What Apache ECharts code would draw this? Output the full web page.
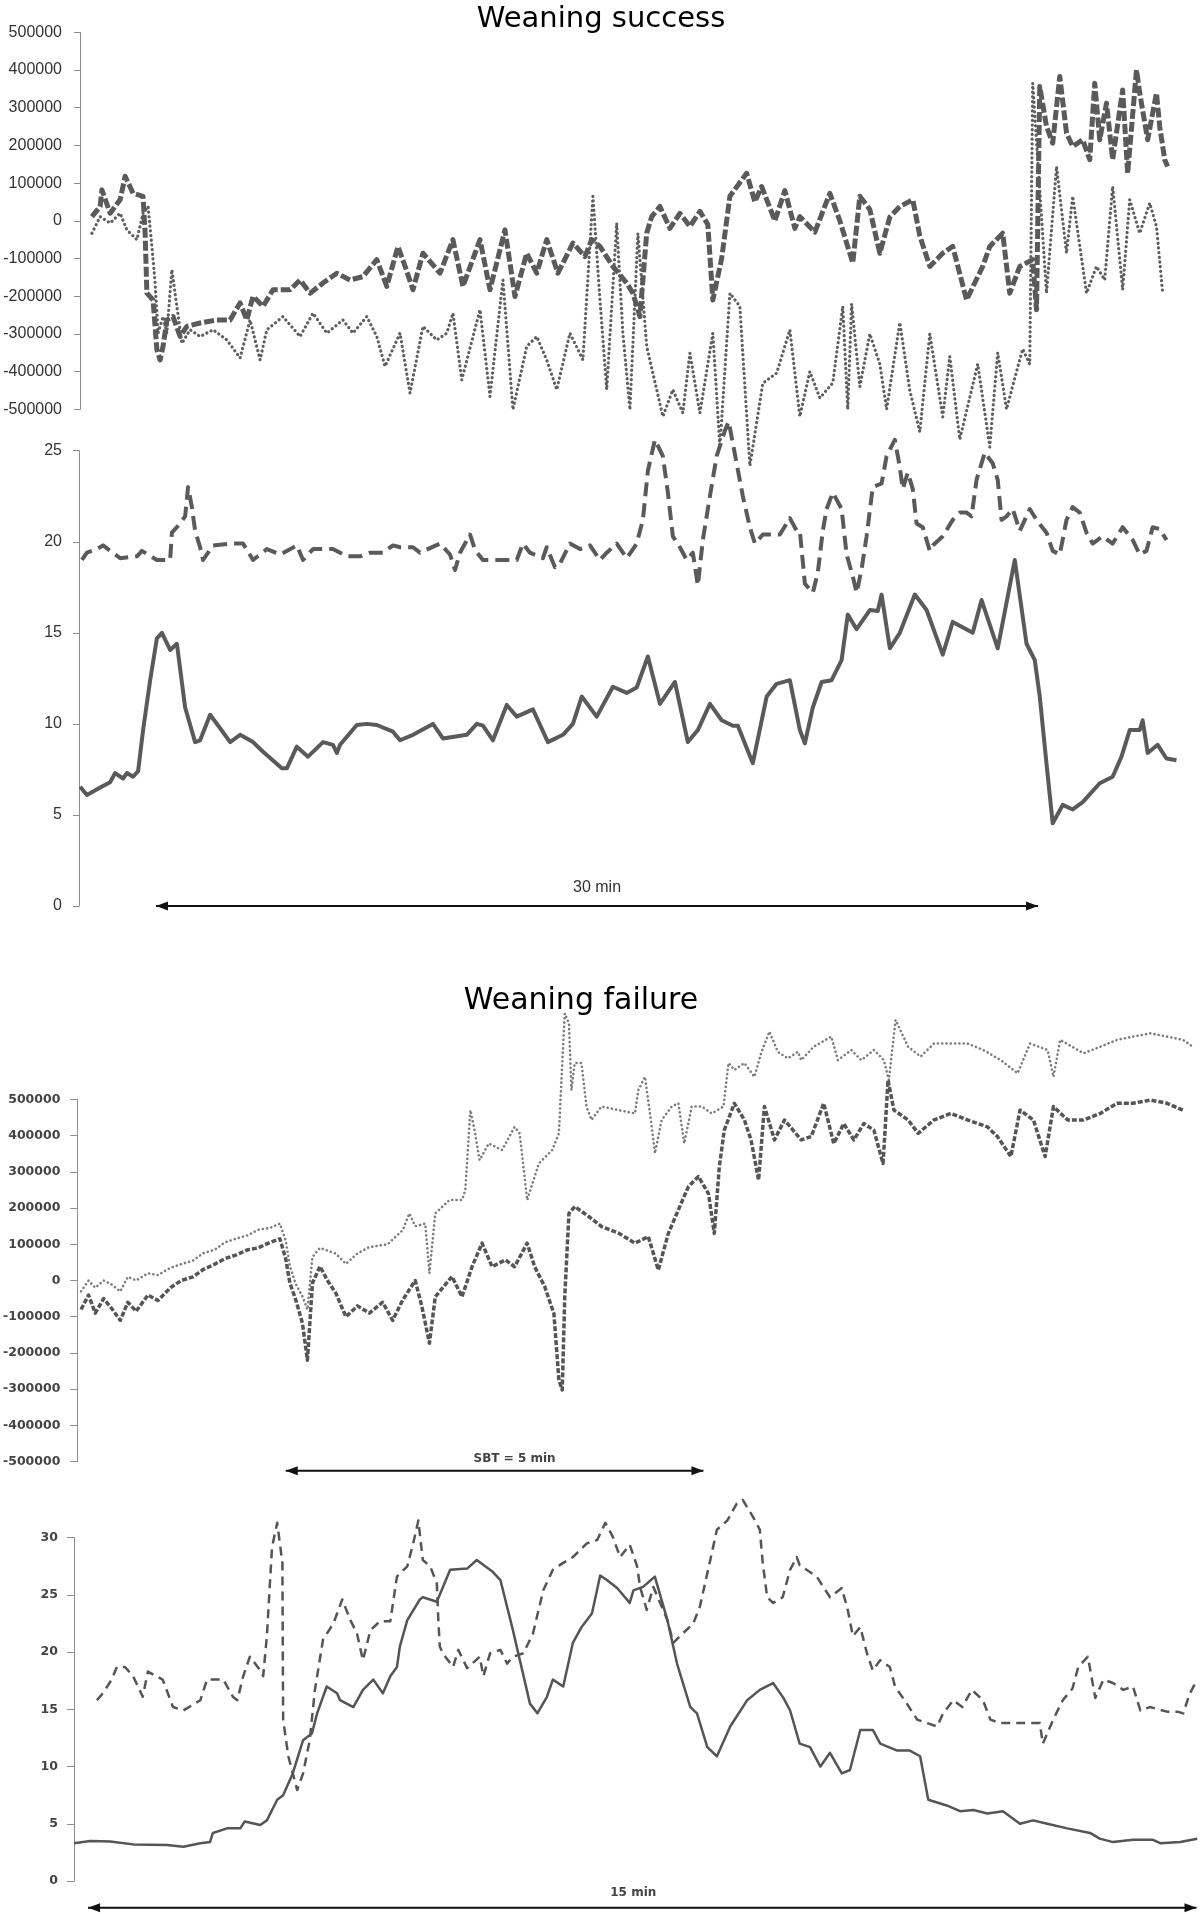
<!DOCTYPE html>
<html><head><meta charset="utf-8">
<script src="https://cdn.jsdelivr.net/npm/echarts@6/dist/echarts.min.js"></script>
<style>html,body{margin:0;padding:0;background:#fff}#chart{width:1200px;height:1914px}</style>
</head><body><div id="chart"></div>
<script>
// ---- Titles ----
const titleSuccess = 'Weaning success';
const titleFailure = 'Weaning failure';

// ---- Axis ranges (value ticks) ----
const signalAxis = {min: -500000, max: 500000, interval: 100000};
const successRateAxis = {min: 0, max: 25, interval: 5};
const failureRateAxis = {min: 0, max: 30, interval: 5};

// ---- Time spans (minutes) ----
const successTimeRange = [-2.585, 34.83];
const successRateTimeRange = [-2.62, 34.83];
const failureSignalTimeRange = [-2.494, 10.92];
const failureRateTimeRange = [-0.19, 15.02];
const successSpan = [0, 30];      const successSpanLabel = '30 min';
const sbtSpan = [0, 5];           const sbtSpanLabel = 'SBT = 5 min';
const failureSpan = [0, 15];      const failureSpanLabel = '15 min';

// ---- Weaning success: signal (dashed) [min, value] ----
const successDashedSignal = [[-2.18,11000],[-1.90,38000],[-1.84,82000],[-1.56,20000],[-1.22,56000],[-1.05,118000],[-0.78,73000],[-0.44,65000],[-0.37,-33000],[-0.31,-192000],[-0.10,-210000],[0.03,-342000],[0.14,-369000],[0.24,-333000],[0.37,-263000],[0.58,-254000],[0.82,-307000],[1.05,-280000],[1.50,-271000],[2.07,-263000],[2.52,-263000],[2.86,-218000],[3.09,-263000],[3.30,-200000],[3.64,-227000],[3.98,-183000],[4.56,-183000],[4.90,-157000],[5.24,-192000],[5.68,-165000],[6.15,-139000],[6.60,-157000],[7.04,-148000],[7.51,-103000],[7.85,-174000],[8.23,-68000],[8.47,-120000],[8.74,-183000],[9.08,-86000],[9.66,-139000],[10.10,-50000],[10.44,-174000],[11.02,-50000],[11.36,-183000],[11.87,-24000],[12.21,-201000],[12.61,-86000],[12.95,-139000],[13.29,-50000],[13.67,-139000],[14.18,-59000],[14.59,-95000],[14.82,-50000],[15.10,-68000],[15.54,-121000],[16.01,-165000],[16.22,-192000],[16.46,-254000],[16.69,-33000],[16.86,11000],[17.14,38000],[17.48,-20000],[17.82,20000],[18.16,-15000],[18.50,25000],[18.77,-10000],[18.94,-210000],[19.24,-100000],[19.52,65000],[20.09,126000],[20.37,50000],[20.60,91000],[21.05,0],[21.39,80000],[21.73,-20000],[21.90,11000],[22.41,-30000],[22.92,73000],[23.26,0],[23.70,-112000],[23.94,65000],[24.28,30000],[24.62,-86000],[24.96,10000],[25.30,38000],[25.74,56000],[25.98,-40000],[26.32,-121000],[26.76,-86000],[27.10,-68000],[27.57,-210000],[28.12,-121000],[28.36,-68000],[28.80,-33000],[29.04,-192000],[29.38,-121000],[29.82,-103000],[29.95,-236000],[30.06,356000],[30.29,250000],[30.50,206000],[30.74,383000],[30.97,233000],[31.18,197000],[31.52,215000],[31.76,162000],[31.93,365000],[32.10,215000],[32.33,312000],[32.54,162000],[32.78,294000],[32.88,347000],[33.05,126000],[33.35,400000],[33.46,339000],[33.73,215000],[34.03,339000],[34.14,250000],[34.31,162000],[34.41,144000]];

// ---- Weaning success: signal (dotted) ----
const successDottedSignal = [[-2.18,-33000],[-1.90,11000],[-1.56,-6000],[-1.22,20000],[-0.99,-24000],[-0.65,-50000],[-0.44,20000],[-0.27,38000],[-0.14,-68000],[-0.03,-165000],[0.07,-298000],[0.24,-254000],[0.37,-298000],[0.54,-130000],[0.71,-227000],[0.88,-325000],[1.16,-289000],[1.50,-307000],[1.94,-289000],[2.41,-316000],[2.86,-364000],[3.20,-263000],[3.54,-369000],[3.77,-289000],[4.32,-254000],[4.90,-307000],[5.34,-245000],[5.81,-298000],[6.36,-263000],[6.70,-298000],[7.17,-254000],[7.51,-307000],[7.79,-386000],[8.30,-298000],[8.64,-457000],[9.08,-280000],[9.55,-316000],[9.89,-298000],[10.10,-245000],[10.40,-422000],[11.02,-236000],[11.36,-466000],[11.80,-157000],[12.14,-501000],[12.61,-333000],[12.95,-307000],[13.29,-369000],[13.63,-448000],[14.08,-298000],[14.52,-369000],[14.86,65000],[15.10,-210000],[15.33,-448000],[15.67,-6000],[15.88,-298000],[16.12,-501000],[16.39,-33000],[16.69,-333000],[17.24,-519000],[17.58,-448000],[17.92,-510000],[18.16,-351000],[18.50,-510000],[18.94,-298000],[19.18,-600000],[19.52,-192000],[19.86,-227000],[20.20,-650000],[20.64,-431000],[21.11,-404000],[21.56,-289000],[21.90,-519000],[22.24,-400000],[22.58,-470000],[23.02,-430000],[23.36,-227000],[23.53,-500000],[23.66,-220000],[23.94,-440000],[24.28,-300000],[24.62,-380000],[24.85,-500000],[25.30,-270000],[25.64,-450000],[25.98,-560000],[26.32,-300000],[26.76,-520000],[27.00,-360000],[27.34,-580000],[27.95,-380000],[28.36,-600000],[28.63,-350000],[28.93,-500000],[29.27,-400000],[29.48,-340000],[29.72,-380000],[29.82,365000],[30.29,-192000],[30.63,144000],[30.97,-86000],[31.18,65000],[31.65,-192000],[31.99,-121000],[32.27,-157000],[32.54,91000],[32.88,-183000],[33.12,56000],[33.46,-33000],[33.80,47000],[34.03,-15000],[34.24,-192000]];

// ---- Weaning success: rate (dashed) ----
const successDashedRate = [[-2.52,19.0],[-2.35,19.4],[-2.01,19.6],[-1.80,19.8],[-1.56,19.5],[-1.22,19.1],[-0.65,19.2],[-0.48,19.5],[0.03,19.0],[0.48,19.0],[0.54,20.5],[0.82,21.0],[0.99,21.4],[1.09,23.0],[1.22,21.9],[1.33,20.6],[1.50,19.7],[1.60,19.0],[1.94,19.8],[2.52,19.9],[2.96,19.9],[3.30,19.0],[3.77,19.6],[4.22,19.3],[4.79,19.8],[5.00,19.0],[5.34,19.6],[6.02,19.6],[6.49,19.2],[6.94,19.2],[7.28,19.4],[7.72,19.4],[8.06,19.8],[8.30,19.7],[8.74,19.7],[8.98,19.4],[9.66,19.9],[10.00,19.3],[10.17,18.45],[10.34,19.4],[10.68,20.4],[10.85,19.55],[11.12,19.0],[11.59,19.0],[11.80,19.0],[12.27,19.0],[12.48,19.9],[12.72,19.4],[13.16,19.1],[13.29,19.7],[13.57,18.6],[13.74,18.8],[14.08,19.9],[14.42,19.6],[14.76,19.8],[15.10,19.0],[15.33,19.4],[15.67,19.9],[16.01,19.1],[16.35,19.9],[16.56,21.2],[16.73,23.9],[16.97,25.6],[17.24,24.7],[17.41,22.7],[17.58,20.3],[17.82,19.7],[18.05,19.0],[18.26,19.4],[18.43,17.6],[18.60,20.1],[18.84,22.5],[19.07,24.7],[19.35,26.1],[19.48,26.6],[19.75,24.3],[19.96,22.5],[20.20,20.8],[20.37,19.9],[20.64,20.4],[21.22,20.4],[21.56,21.3],[21.79,20.6],[21.90,20.6],[22.07,17.7],[22.34,17.2],[22.51,18.3],[22.68,20.6],[22.81,21.8],[23.02,22.7],[23.32,21.8],[23.49,19.3],[23.70,18.1],[23.83,17.2],[24.00,18.5],[24.17,20.3],[24.38,23.0],[24.68,23.2],[24.85,24.7],[25.13,25.6],[25.30,24.1],[25.40,22.9],[25.57,23.8],[25.74,22.9],[25.87,21.0],[26.08,20.8],[26.32,19.5],[26.42,19.8],[26.76,20.3],[27.10,21.2],[27.34,21.6],[27.57,21.6],[27.74,21.4],[27.91,23.4],[28.19,24.9],[28.46,24.3],[28.63,23.4],[28.76,21.2],[28.93,21.4],[29.14,21.8],[29.38,20.6],[29.72,21.8],[29.95,21.2],[30.29,20.5],[30.50,19.5],[30.74,19.3],[30.97,21.2],[31.18,21.9],[31.42,21.6],[31.65,20.5],[31.86,19.9],[32.20,20.3],[32.54,19.9],[32.88,20.8],[33.22,20.1],[33.46,19.3],[33.69,19.5],[33.90,20.8],[34.14,20.7],[34.37,20.1]];

// ---- Weaning success: rate (solid) ----
const successSolidRate = [[-2.58,6.55],[-2.35,6.1],[-1.90,6.5],[-1.56,6.8],[-1.39,7.3],[-1.12,7.0],[-0.99,7.3],[-0.78,7.1],[-0.61,7.4],[-0.44,9.66],[-0.20,12.4],[0.03,14.7],[0.20,15.0],[0.48,14.06],[0.71,14.4],[0.99,10.9],[1.33,9.0],[1.50,9.1],[1.84,10.5],[2.18,9.76],[2.52,9.0],[2.86,9.4],[3.30,9.0],[3.64,8.47],[4.28,7.56],[4.45,7.56],[4.79,8.75],[5.17,8.2],[5.68,9.0],[6.02,8.85],[6.15,8.4],[6.26,8.85],[6.83,9.94],[7.17,10.0],[7.51,9.94],[8.06,9.57],[8.30,9.1],[8.74,9.4],[9.42,10.0],[9.76,9.2],[10.57,9.4],[10.91,10.0],[11.12,9.9],[11.46,9.1],[11.93,11.04],[12.27,10.4],[12.82,10.8],[13.33,9.0],[13.84,9.4],[14.18,10.0],[14.48,11.5],[14.99,10.4],[15.54,12.04],[16.01,11.7],[16.35,12.0],[16.73,13.7],[17.14,11.1],[17.65,12.3],[18.09,9.0],[18.43,9.66],[18.84,11.1],[19.24,10.2],[19.62,9.9],[19.79,9.9],[20.30,7.84],[20.77,11.5],[21.11,12.2],[21.56,12.4],[21.90,9.66],[22.07,8.93],[22.34,10.9],[22.64,12.3],[22.98,12.4],[23.32,13.5],[23.53,16.0],[23.83,15.2],[24.28,16.25],[24.55,16.2],[24.68,17.1],[24.96,14.15],[25.30,15.0],[25.81,17.1],[26.21,16.25],[26.76,13.8],[27.10,15.6],[27.78,15.0],[28.08,16.8],[28.63,14.15],[29.21,19.0],[29.61,14.4],[29.89,13.5],[30.06,11.5],[30.29,7.8],[30.50,4.54],[30.84,5.55],[31.18,5.3],[31.52,5.7],[32.10,6.74],[32.54,7.1],[32.84,8.2],[33.12,9.66],[33.46,9.66],[33.56,10.2],[33.73,8.4],[34.07,8.85],[34.37,8.1],[34.71,8.0]];

// ---- Weaning failure: signal (dotted, light) ----
const failureDottedSignal = [[-2.45,-30000],[-2.36,0],[-2.28,-20000],[-2.18,0],[-2.09,-10000],[-1.98,-30000],[-1.89,10000],[-1.79,0],[-1.65,20000],[-1.53,15000],[-1.38,35000],[-1.25,45000],[-1.11,55000],[-0.99,75000],[-0.85,85000],[-0.73,105000],[-0.60,115000],[-0.45,125000],[-0.33,140000],[-0.19,145000],[-0.07,157000],[0,110000],[0.05,40000],[0.12,-10000],[0.20,-44000],[0.26,-80000],[0.32,65000],[0.41,90000],[0.60,74000],[0.72,46000],[0.86,75000],[1.00,92000],[1.22,100000],[1.40,139000],[1.48,185000],[1.55,150000],[1.67,157000],[1.72,20000],[1.79,185000],[1.96,222000],[2.11,222000],[2.15,250000],[2.21,470000],[2.26,415000],[2.32,332000],[2.43,378000],[2.59,360000],[2.74,424000],[2.80,406000],[2.89,222000],[3.03,323000],[3.19,360000],[3.27,406000],[3.31,600000],[3.34,737000],[3.39,710000],[3.42,525000],[3.46,600000],[3.54,600000],[3.60,480000],[3.66,443000],[3.78,480000],[3.99,470000],[4.18,461000],[4.22,525000],[4.30,562000],[4.36,461000],[4.42,351000],[4.50,443000],[4.62,480000],[4.70,489000],[4.77,378000],[4.86,480000],[4.98,480000],[5.10,461000],[5.24,480000],[5.30,600000],[5.37,581000],[5.49,600000],[5.61,562000],[5.69,627000],[5.79,687000],[5.89,631000],[6.01,613000],[6.13,631000],[6.17,608000],[6.32,645000],[6.53,673000],[6.61,608000],[6.77,636000],[6.89,608000],[7.04,636000],[7.16,608000],[7.22,553000],[7.30,719000],[7.45,645000],[7.60,618000],[7.76,654000],[7.96,654000],[8.16,654000],[8.35,636000],[8.56,608000],[8.76,572000],[8.91,654000],[9.12,636000],[9.19,562000],[9.27,664000],[9.55,627000],[9.75,645000],[9.95,664000],[10.14,673000],[10.35,682000],[10.55,673000],[10.74,664000],[10.86,645000]];

// ---- Weaning failure: signal (dashed, dark) ----
const failureDashedSignal = [[-2.45,-80000],[-2.36,-40000],[-2.28,-90000],[-2.18,-50000],[-2.09,-75000],[-1.98,-110000],[-1.89,-60000],[-1.79,-85000],[-1.65,-40000],[-1.53,-55000],[-1.38,-20000],[-1.25,0],[-1.11,10000],[-0.99,30000],[-0.85,45000],[-0.73,60000],[-0.60,70000],[-0.45,85000],[-0.33,90000],[-0.19,105000],[-0.07,115000],[0,60000],[0.05,-7000],[0.12,-53000],[0.20,-118000],[0.26,-220000],[0.32,-7000],[0.41,39000],[0.50,0],[0.60,-35000],[0.72,-100000],[0.86,-70000],[1.00,-90000],[1.16,-60000],[1.28,-110000],[1.40,-54000],[1.55,0],[1.63,-72000],[1.72,-173000],[1.79,-45000],[1.99,11000],[2.11,-45000],[2.23,38000],[2.35,103000],[2.47,38000],[2.63,57000],[2.74,38000],[2.89,103000],[2.98,38000],[3.10,-17000],[3.21,-91000],[3.27,-275000],[3.31,-302000],[3.34,-45000],[3.39,185000],[3.46,204000],[3.63,176000],[3.78,149000],[3.99,130000],[4.18,103000],[4.34,121000],[4.46,29000],[4.58,130000],[4.70,195000],[4.82,259000],[4.94,287000],[5.06,240000],[5.13,130000],[5.19,314000],[5.25,415000],[5.37,489000],[5.49,443000],[5.57,388000],[5.66,277000],[5.73,480000],[5.85,388000],[5.97,443000],[6.17,388000],[6.29,397000],[6.44,489000],[6.56,378000],[6.68,433000],[6.80,388000],[6.92,433000],[7.04,415000],[7.15,323000],[7.21,553000],[7.28,470000],[7.45,443000],[7.57,406000],[7.76,443000],[7.96,461000],[8.16,443000],[8.40,424000],[8.52,397000],[8.68,342000],[8.79,470000],[8.95,443000],[9.09,342000],[9.19,480000],[9.36,443000],[9.55,443000],[9.75,461000],[9.95,489000],[10.14,489000],[10.35,498000],[10.55,489000],[10.74,470000]];

// ---- Weaning failure: rate (dashed) ----
const failureDashedRate = [[0.12,15.8],[0.20,16.4],[0.32,17.6],[0.39,18.7],[0.50,18.7],[0.61,17.9],[0.74,16.1],[0.81,18.3],[1.01,17.6],[1.15,15.2],[1.29,14.9],[1.52,15.8],[1.61,17.6],[1.83,17.6],[1.96,16.1],[2.02,15.8],[2.10,17.9],[2.19,19.6],[2.33,18.4],[2.37,17.9],[2.42,21.4],[2.49,29.2],[2.56,31.3],[2.63,27.8],[2.64,14.1],[2.71,10.9],[2.83,7.95],[2.91,9.4],[3.00,12.3],[3.07,16.7],[3.18,21.1],[3.32,22.5],[3.44,24.6],[3.55,22.8],[3.64,21.6],[3.72,19.3],[3.82,21.9],[3.95,22.7],[4.09,22.7],[4.18,26.6],[4.32,27.5],[4.40,29.5],[4.47,31.5],[4.53,28.05],[4.63,27.5],[4.72,26.0],[4.74,22.8],[4.76,20.5],[4.80,19.9],[4.94,18.7],[5.01,20.2],[5.13,18.6],[5.30,19.6],[5.35,17.9],[5.44,19.9],[5.58,20.2],[5.67,19.0],[5.75,19.6],[5.89,19.9],[6.02,21.6],[6.16,25.4],[6.29,27.2],[6.43,27.8],[6.56,28.3],[6.75,29.5],[6.89,29.8],[7.00,31.3],[7.10,30.1],[7.20,28.3],[7.33,29.4],[7.43,27.5],[7.47,25.7],[7.56,23.7],[7.65,25.7],[7.84,22.8],[7.92,20.8],[8.01,21.4],[8.19,22.5],[8.28,24.0],[8.42,28.05],[8.51,30.7],[8.65,31.5],[8.78,33.0],[8.86,33.3],[9.00,31.8],[9.09,30.7],[9.13,27.8],[9.19,24.8],[9.27,24.3],[9.40,24.8],[9.50,27.2],[9.59,28.3],[9.63,27.6],[9.86,26.6],[10.04,24.8],[10.20,25.6],[10.28,23.7],[10.35,21.4],[10.45,22.2],[10.54,19.9],[10.62,18.4],[10.72,19.3],[10.85,18.7],[10.92,17.0],[11.08,15.5],[11.22,14.1],[11.49,13.5],[11.57,14.65],[11.71,15.8],[11.83,15.2],[11.96,16.7],[12.11,15.8],[12.21,14.1],[12.34,13.8],[12.88,13.8],[12.92,12.0],[13.06,14.1],[13.19,15.8],[13.32,16.8],[13.40,18.7],[13.53,19.6],[13.63,16.0],[13.74,17.6],[13.87,17.3],[14.01,16.7],[14.14,17.0],[14.24,14.9],[14.37,15.2],[14.60,14.8],[14.74,14.8],[14.82,14.65],[14.91,16.4],[15.01,17.6]];

// ---- Weaning failure: rate (solid) ----
const failureSolidRate = [[-0.19,3.3],[0.03,3.5],[0.30,3.45],[0.61,3.2],[1.07,3.15],[1.29,3.0],[1.52,3.3],[1.65,3.4],[1.69,4.2],[1.88,4.6],[2.06,4.6],[2.12,5.2],[2.33,4.9],[2.42,5.3],[2.56,7.1],[2.64,7.5],[2.77,9.4],[2.91,12.3],[3.03,12.9],[3.10,14.65],[3.23,17.0],[3.37,16.4],[3.41,15.8],[3.59,15.2],[3.72,16.7],[3.86,17.6],[3.99,16.4],[4.09,17.9],[4.18,18.7],[4.22,20.5],[4.32,22.8],[4.49,24.6],[4.53,24.8],[4.72,24.4],[4.90,27.2],[5.13,27.3],[5.26,28.05],[5.48,27.0],[5.58,26.3],[5.75,21.9],[5.98,15.5],[6.08,14.65],[6.21,16.1],[6.29,17.6],[6.43,17.0],[6.56,20.8],[6.68,22.2],[6.82,23.4],[6.93,26.7],[7.02,26.3],[7.16,25.6],[7.33,24.3],[7.38,25.4],[7.51,25.7],[7.67,26.6],[7.84,22.8],[7.97,19.0],[8.15,15.2],[8.24,14.65],[8.38,11.7],[8.51,10.9],[8.69,13.5],[8.92,15.8],[9.09,16.7],[9.27,17.3],[9.41,16.0],[9.50,14.9],[9.63,12.0],[9.77,11.7],[9.91,10.0],[10.04,11.2],[10.20,9.4],[10.31,9.7],[10.45,13.2],[10.62,13.2],[10.72,12.0],[10.95,11.4],[11.12,11.4],[11.26,10.9],[11.37,7.1],[11.62,6.6],[11.80,6.1],[11.98,6.2],[12.17,5.9],[12.38,6.1],[12.61,5.0],[12.79,5.3],[12.98,5.0],[13.25,4.6],[13.56,4.2],[13.69,3.7],[13.87,3.4],[14.14,3.6],[14.41,3.6],[14.51,3.3],[14.78,3.4],[15.01,3.7]];

// ---------------- chart ----------------
const chart = echarts.init(document.getElementById('chart'), null, {renderer: 'canvas'});
const GRAY = '#5a5a5a';
const AXIS_GRAY = '#8c8c8c';

const styleA = {fontFamily: 'Liberation Sans', fontSize: 16, color: '#333'};
const styleB = {fontFamily: 'DejaVu Sans', fontSize: 12.5, fontWeight: 'bold', color: '#444'};

function yAx(i, rng, lab, margin, tickLen) {
  return {type: 'value', gridIndex: i, min: rng.min, max: rng.max, interval: rng.interval,
    axisLine: {show: true, onZero: false, lineStyle: {color: AXIS_GRAY, width: 1}},
    axisTick: {show: true, length: tickLen, lineStyle: {color: AXIS_GRAY}},
    splitLine: {show: false},
    axisLabel: Object.assign({margin: margin, formatter: v => String(v)}, lab)};
}
function xAx(i, r) { return {type: 'value', gridIndex: i, min: r[0], max: r[1], show: false}; }

function lineS(i, data, color, width, type, z, cap) {
  return {type: 'line', xAxisIndex: i, yAxisIndex: i, data: data, symbol: 'none', clip: false,
    silent: true, z: z || 2, lineStyle: {color: color, width: width, type: type, cap: cap || 'butt', join: 'round'}};
}
function arrowS(i, span, y, text, lab, dist, dx) {
  const head = {symbol: 'triangle', symbolSize: [9, 12], itemStyle: {color: '#111'}};
  return {type: 'line', xAxisIndex: i, yAxisIndex: i, clip: false, silent: true, z: 6,
    showSymbol: true, showAllSymbol: true,
    lineStyle: {color: '#111', width: 2},
    data: [
      Object.assign({value: [span[0], y], symbolRotate: 90, symbolOffset: [6, 0]}, head),
      {value: [(span[0] + span[1]) / 2, y], symbol: 'circle', symbolSize: 1, itemStyle: {color: 'rgba(0,0,0,0)'},
       label: Object.assign({show: true, formatter: text, position: 'top', distance: dist, offset: [dx, 0]}, lab)},
      Object.assign({value: [span[1], y], symbolRotate: -90, symbolOffset: [-6, 0]}, head)
    ]};
}

const option = {
  animation: false,
  backgroundColor: '#fff',
  title: [
    {text: titleSuccess, left: 601, top: 4.5, padding: 0, textAlign: 'center',
     textStyle: {fontFamily: 'DejaVu Sans', fontSize: 29, fontWeight: 'normal', color: '#000'}},
    {text: titleFailure, left: 581, top: 986.5, padding: 0, textAlign: 'center',
     textStyle: {fontFamily: 'DejaVu Sans', fontSize: 30, fontWeight: 'normal', color: '#000'}}
  ],
  grid: [
    {left: 80, top: 32.3, width: 1100, height: 377},
    {left: 79, top: 450.7, width: 1101, height: 455.3},
    {left: 74, top: 1099.3, width: 1124, height: 362.4},
    {left: 74, top: 1537.7, width: 1124, height: 343.3}
  ],
  xAxis: [xAx(0, successTimeRange), xAx(1, successRateTimeRange), xAx(2, failureSignalTimeRange), xAx(3, failureRateTimeRange)],
  yAxis: [
    yAx(0, signalAxis, styleA, 18, 6),
    yAx(1, successRateAxis, styleA, 17, 6),
    yAx(2, signalAxis, styleB, 17, 7),
    yAx(3, failureRateAxis, styleB, 16, 7)
  ],
  series: [
    lineS(0, successDottedSignal, '#5e5e5e', 3.2, [0.1, 4.6], 2, 'round'),
    lineS(0, successDashedSignal, GRAY, 5, [10, 3], 3),
    lineS(1, successDashedRate, GRAY, 4, [14, 7], 2),
    lineS(1, successSolidRate, GRAY, 4, 'solid', 3),
    lineS(2, failureDottedSignal, '#7c7c7c', 2.6, [0.1, 4.2], 2, 'round'),
    lineS(2, failureDashedSignal, '#555', 3.5, [5, 2], 3),
    lineS(3, failureDashedRate, '#555', 2.5, [9, 6], 2),
    lineS(3, failureSolidRate, '#555', 2.5, 'solid', 3),
    arrowS(1, successSpan, 0, successSpanLabel, {fontFamily: 'Liberation Sans', fontSize: 16, color: '#333'}, 10, 0),
    arrowS(2, sbtSpan, -525000, sbtSpanLabel, {fontFamily: 'DejaVu Sans', fontSize: 12, fontWeight: 'bold', color: '#444'}, 5, 20),
    arrowS(3, failureSpan, -2.33, failureSpanLabel, {fontFamily: 'DejaVu Sans', fontSize: 12, fontWeight: 'bold', color: '#444'}, 8, -9)
  ]
};
chart.setOption(option);
</script></body></html>
